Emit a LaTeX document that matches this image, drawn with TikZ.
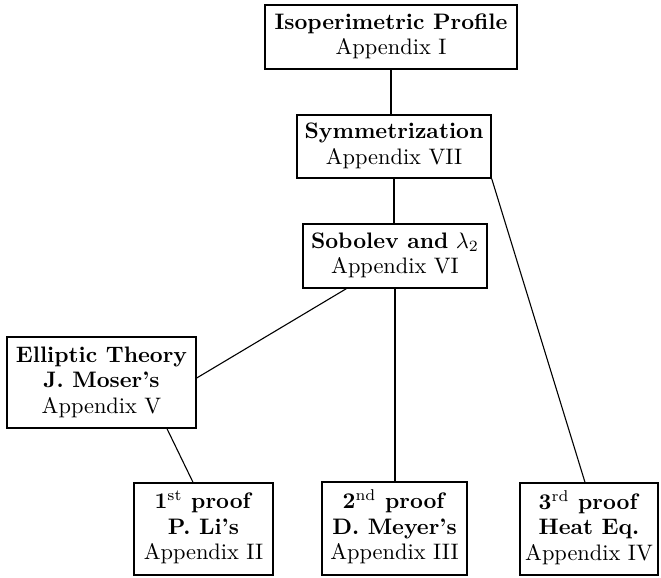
\documentclass[tikz,border=0pt]{standalone}
\usepackage{graphicx}
\tikzset{
  box/.style={draw, line width=1.4pt, rectangle, inner sep=0pt, align=center},
  link/.style={line width=1.1pt}
}
\newcommand\boxtext[1]{\scalebox{2.24}{\renewcommand\arraystretch{0.95}\begin{tabular}{@{}c@{}}#1\end{tabular}}}
\begin{document}
\begin{tikzpicture}[x=1pt,y=-1pt]
\useasboundingbox (0,0) rectangle (661,578);
\node[box, minimum width=252pt, minimum height=64pt] (iso) at (391,37)
  {\boxtext{\textbf{Isoperimetric Profile}\\ Appendix I}};
\node[box, minimum width=194pt, minimum height=63pt] (sym) at (394,146.5)
  {\boxtext{\textbf{Symmetrization}\\ Appendix VII}};
\node[box, minimum width=184pt, minimum height=64pt] (sob) at (395,256)
  {\boxtext{\textbf{Sobolev and} $\lambda_2$\\ Appendix VI}};
\node[box, minimum width=189pt, minimum height=91pt] (ell) at (101.5,382.5)
  {\boxtext{\textbf{Elliptic Theory}\\ \textbf{J. Moser's}\\ Appendix V}};
\node[box, minimum width=139pt, minimum height=92pt] (pr1) at (203.5,529)
  {\boxtext{\textbf{1$^{\rm st}$ proof}\\ \textbf{P. Li's}\\ Appendix II}};
\node[box, minimum width=145pt, minimum height=93pt] (pr2) at (394.5,528.5)
  {\boxtext{\textbf{2$^{\rm nd}$ proof}\\ \textbf{D. Meyer's}\\ Appendix III}};
\node[box, minimum width=138pt, minimum height=92pt] (pr3) at (589,529)
  {\boxtext{\textbf{3$^{\rm rd}$ proof}\\ \textbf{Heat Eq.}\\ Appendix IV}};
\draw[link] (iso.south) -- (iso.south |- sym.north);
\draw[link] (sym.south) -- (sym.south |- sob.north);
\draw[link] (sym.south east) -- ([xshift=-4pt]pr3.north);
\draw[link] ([xshift=44pt]sob.south west) -- ([yshift=4.5pt]ell.east);
\draw[link] ([xshift=65.5pt]ell.south) -- ([xshift=-10.5pt]pr1.north);
\draw[link] (sob.south) -- (sob.south |- pr2.north);
\end{tikzpicture}
\end{document}
